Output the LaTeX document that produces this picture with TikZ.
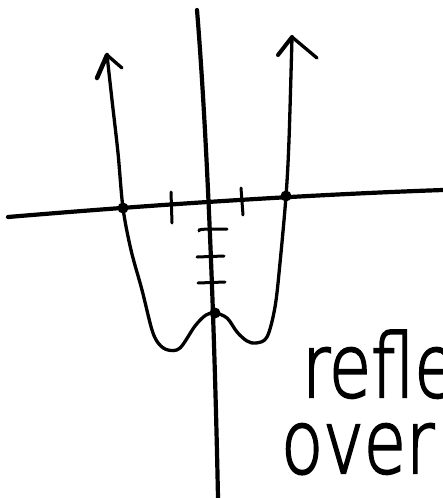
\documentclass[tikz,border=0pt]{standalone}
\usepackage{fontspec}
\newfontfamily\hand[FakeBold=2.5]{DejaVu Sans ExtraLight}
\begin{document}
\begin{tikzpicture}[x=1pt,y=-1pt,
  axisline/.style={line width=4.2pt,line cap=round,line join=round},
  graphline/.style={line width=3.3pt,line cap=round,line join=round},
  tickmark/.style={line width=3pt,line cap=round},
  pointdot/.style={circle,fill=black,inner sep=0pt,minimum size=11pt},
  handtext/.style={font=\hand\fontsize{88}{88}\selectfont,inner sep=0pt,anchor=base west,xscale=0.78}]
\useasboundingbox (0,0) rectangle (443,498);
\clip (0,0) rectangle (443,498);
\fill[white] (0,0) rectangle (443,498);
% axes
\coordinate (ytop) at (197,10);
\coordinate (ybot) at (218,498);
\coordinate (xl) at (8,217);
\coordinate (xr) at (443,190);
\draw[axisline] (ytop) .. controls (206,120) and (214,300) .. (ybot);
\draw[axisline] (xl) .. controls (150,205) and (300,195) .. (xr);
% x ticks
\draw[tickmark] (171,192) -- (172,223);
\draw[tickmark] (241,188) -- (243,215);
% y ticks
\draw[tickmark] (199,231) .. controls (197,229) and (205,229) .. (227,229);
\draw[tickmark] (197,257) -- (224,256);
\draw[tickmark] (198,283) -- (225,282);
% curve
\coordinate (lt) at (107,55);
\coordinate (rt) at (292,37);
\draw[graphline] plot[smooth,tension=0.55] coordinates {
 (107,55) (112,100) (118,153) (123,208) (131,250) (142,290) (152,330) (159,344) (168,350) (180,348) (195,326) (206,315) (215,313) (227,318) (237,332) (247,341) (256,343) (267,337) (275,307) (280,263) (286,196) (289,140) (292,37)};
% arrow heads
\draw[graphline,line width=4.5pt] (lt) -- (97,78);
\draw[graphline] (lt) -- (122,68);
\draw[graphline,line width=4pt] (rt) -- (278,55);
\draw[graphline] (rt) -- (317,58);
% dots
\node[pointdot] (pl) at (123,208) {};
\node[pointdot] (pr) at (286,196) {};
\node[pointdot] (p0) at (215,313) {};
% text
\node[handtext] (t1) at (302,397) {refle};
\node[handtext] (t2) at (281,473) {over};
\end{tikzpicture}
\end{document}
